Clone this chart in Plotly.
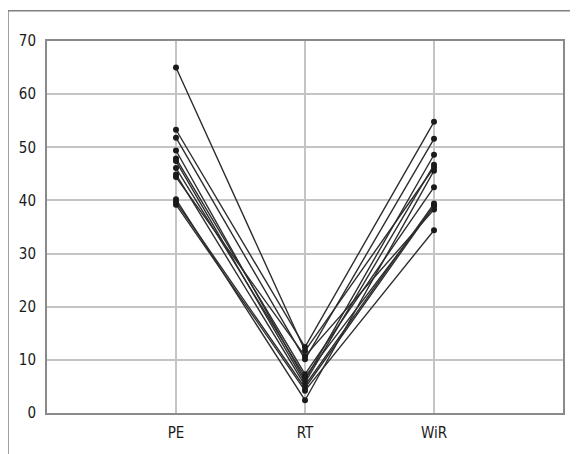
import plotly.graph_objects as go

categories = ["PE", "RT", "WiR"]
pe_values = [65.0, 53.3, 51.8, 49.4, 47.9, 47.4, 46.1, 44.9, 44.4, 40.2, 39.7, 39.2]
rt_values = [11.7, 12.4, 10.1, 6.2, 7.3, 5.7, 6.8, 5.2, 10.7, 2.4, 4.7, 4.2]
wir_values = [46.2, 54.8, 51.6, 48.6, 42.5, 46.7, 38.9, 39.4, 38.3, 45.6, 39.0, 34.4]
y_ticks = [0, 10, 20, 30, 40, 50, 60, 70]

FONT = "'DejaVu Sans Condensed', 'Liberation Sans Narrow', 'Noto Sans', sans-serif"

fig = go.Figure()
for a, b, c in zip(pe_values, rt_values, wir_values):
    fig.add_trace(go.Scatter(
        x=[0, 1, 2], y=[a, b, c], mode="lines+markers",
        line=dict(color="#2e2e2e", width=1.4),
        marker=dict(color="#1a1a1a", size=6),
        showlegend=False, hoverinfo="skip",
    ))

# page body has an 8px margin, so the figure is 8px smaller than the window
L, T = 39, 33
PW, PH = 516, 372
W, H = 570, 446
fx = (0 - L) / PW
fy = (PH + T - 2.7) / PH

fig.update_layout(
    width=W, height=H,
    margin=dict(l=L, r=W - L - PW, t=T, b=H - T - PH),
    paper_bgcolor="white", plot_bgcolor="white",
    font=dict(family=FONT, size=15, color="#1a1a1a"),
    xaxis=dict(range=[-1, 3], tickmode="array", tickvals=[0, 1, 2], ticktext=categories,
               showgrid=True, gridcolor="#c4c4c4", gridwidth=1.5, zeroline=False,
               showline=True, linecolor="#8a8a8a", linewidth=2, mirror=True,
               ticks="", ticklabelstandoff=5),
    yaxis=dict(range=[0, 70], tickmode="array", tickvals=y_ticks,
               showgrid=True, gridcolor="#c4c4c4", gridwidth=1.5, zeroline=False,
               showline=True, linecolor="#8a8a8a", linewidth=2, mirror=True,
               ticks="", ticklabelstandoff=6),
    shapes=[
        dict(type="line", xref="paper", yref="paper", x0=fx, x1=1.2, y0=fy, y1=fy,
             line=dict(color="#808080", width=1.5)),
        dict(type="line", xref="paper", yref="paper", x0=fx, x1=fx, y0=fy, y1=-0.3,
             line=dict(color="#808080", width=1.5)),
    ],
)

fig.write_html("out.html")
